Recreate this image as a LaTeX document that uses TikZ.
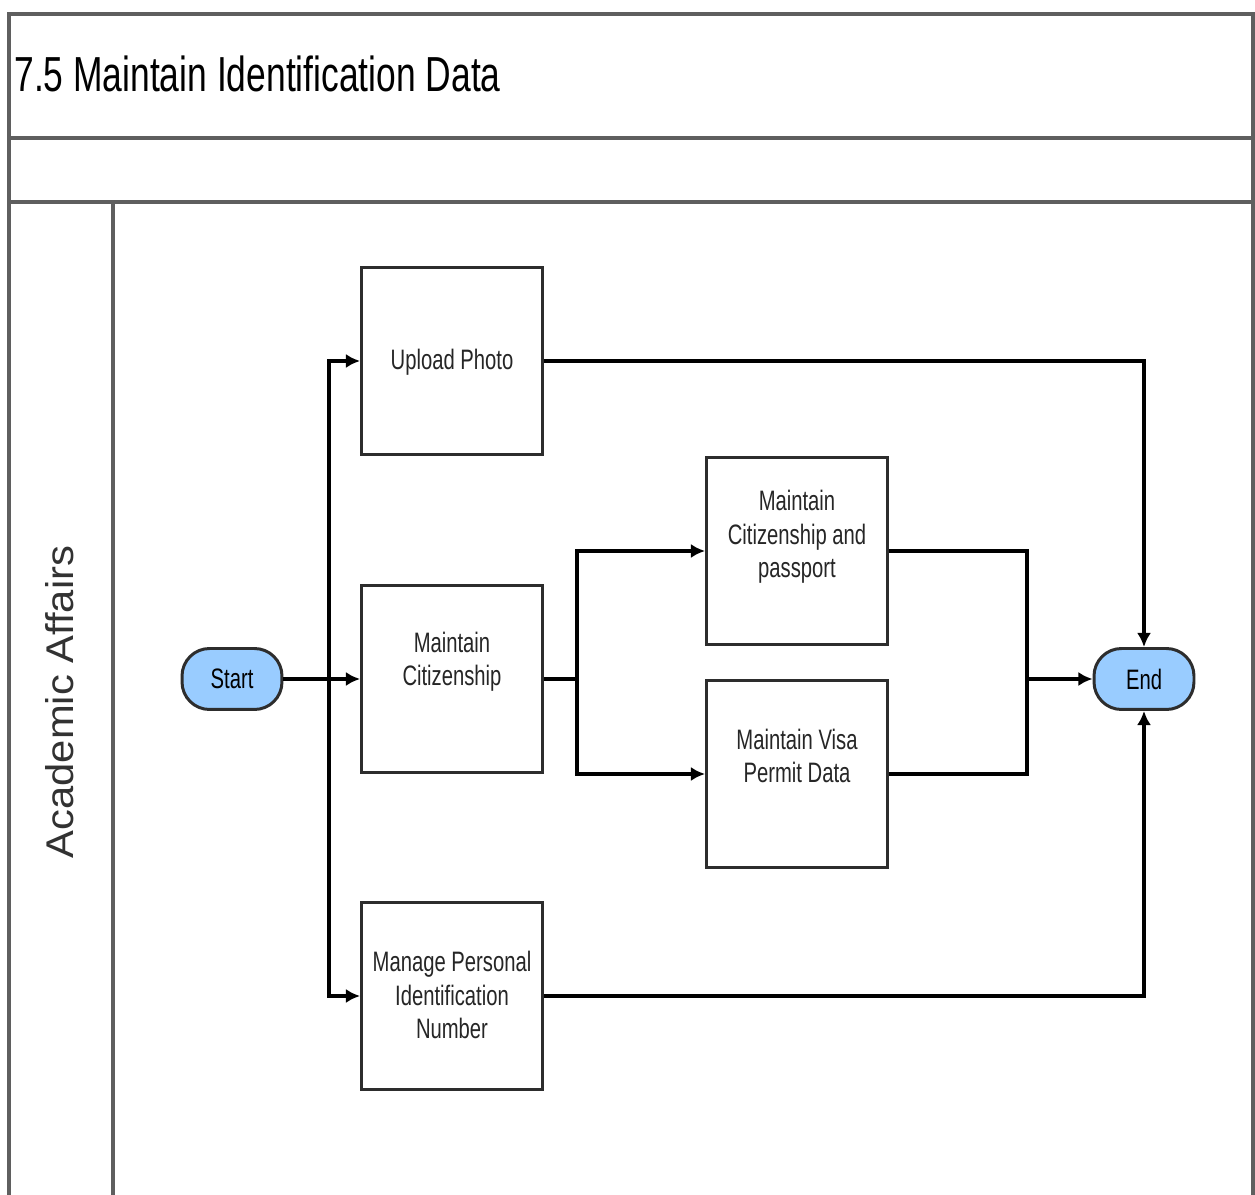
\documentclass[tikz,border=0pt]{standalone}
\usepackage{fontspec}
\setmainfont{Liberation Sans}
\newfontfamily\narrowfont[FakeStretch=0.72]{Liberation Sans}
\newfontfamily\lanefont[FakeStretch=1.08]{Liberation Sans}
\usetikzlibrary{arrows.meta}

\definecolor{lanegray}{RGB}{95,95,95}
\definecolor{boxline}{RGB}{45,45,45}
\definecolor{termblue}{RGB}{153,204,255}
\definecolor{lanetext}{RGB}{50,50,50}

% lines of a task box, moved up or down from the middle
\newcommand{\tasklines}[2]{\raisebox{#1}[0pt][0pt]{\begin{tabular}{@{}c@{}}#2\end{tabular}}}

\tikzset{
	frame/.style={draw=lanegray, line width=0.08cm},
	task/.style={draw=boxline, line width=1.7pt, fill=white, inner sep=0pt,
		minimum width=3.62cm, minimum height=3.76cm, text=black!85,
		font=\narrowfont\fontsize{16}{18.8}\selectfont},
	terminal/.style={draw=boxline, line width=1.7pt, fill=termblue, inner sep=0pt,
		rounded corners=0.55cm, minimum width=2.0cm, minimum height=1.22cm,
		font=\narrowfont\fontsize{16}{18.8}\selectfont},
	flow/.style={line width=1.8pt, -{Latex[length=8pt,width=8pt]}},
	link/.style={line width=1.8pt}
}

\begin{document}
\begin{tikzpicture}[x=0.02cm,y=-0.02cm]
	\useasboundingbox (0,0) rectangle (1255,1195);

	% pool and lane
	\draw[frame] (9,1195) -- (9,14) -- (1253,14) -- (1253,1195);
	\draw[frame] (9,138) -- (1253,138);
	\draw[frame] (9,202) -- (1253,202);
	\draw[frame] (113,202) -- (113,1195);
	\node (title) at (14,74)	[anchor=west, inner sep=0pt, font=\narrowfont\fontsize{28}{34}\selectfont]	{7.5 Maintain Identification Data};
	\node (lane) at (60,702)	[rotate=90, inner sep=0pt, text=lanetext, font=\lanefont\fontsize{22}{26}\selectfont]	{Academic Affairs};

	% steps
	\node (start) at (232,679)	[terminal]	{Start};
	\node (end) at (1144,679)	[terminal]	{End};
	\node (photo) at (452,361)	[task]	{\tasklines{-0.18cm}{Upload Photo}};
	\node (citizen) at (452,679)	[task]	{\tasklines{0.18cm}{Maintain\\Citizenship}};
	\node (pin) at (452,996)	[task]	{\tasklines{-0.2cm}{Manage Personal\\Identification\\Number}};
	\node (passport) at (797,551)	[task]	{\tasklines{0.12cm}{Maintain\\Citizenship and\\passport}};
	\node (visa) at (797,774)	[task]	{\tasklines{0.14cm}{Maintain Visa\\Permit Data}};

	\coordinate (fork) at (329,679);
	\coordinate (split) at (577,679);
	\coordinate (join) at (1027,679);

	% connectors
	\draw[flow] (start) -- (citizen);
	\draw[flow] (fork) |- (photo);
	\draw[flow] (fork) |- (pin);
	\draw[link] (citizen) -- (split);
	\draw[flow] (split) |- (passport);
	\draw[flow] (split) |- (visa);
	\draw[link] (passport) -| (join);
	\draw[link] (visa) -| (join);
	\draw[flow] (join) -- (end);
	\draw[flow] (photo) -| (end);
	\draw[flow] (pin) -| (end);
\end{tikzpicture}
\end{document}
